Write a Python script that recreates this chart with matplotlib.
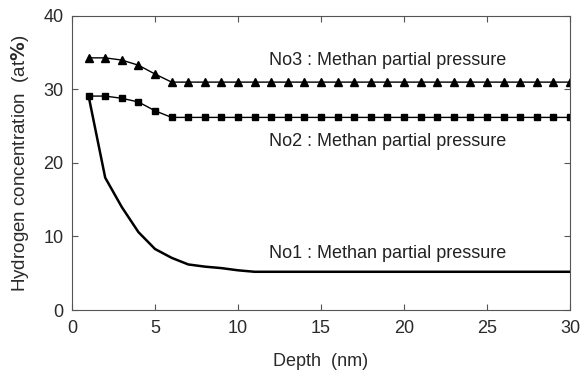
import matplotlib.pyplot as plt

depth = list(range(1, 31))
no1 = [29.1, 18.0, 14.0, 10.6, 8.3, 7.1, 6.2, 5.9, 5.7, 5.4, 5.2] + [5.2] * 19
no2 = [29.1, 29.1, 28.8, 28.3, 27.1] + [26.2] * 25
no3 = [34.3, 34.3, 34.0, 33.3, 32.1] + [31.0] * 25

labels = ['No1 : Methan partial pressure',
          'No2 : Methan partial pressure',
          'No3 : Methan partial pressure']
label_x = 11.85
label_y = [7.75, 22.9, 33.9]

plt.rcParams['font.family'] = ['Liberation Sans', 'DejaVu Sans']

fig = plt.figure(figsize=(5.84, 3.71), dpi=100)
ax = fig.add_axes([0.1233, 0.1644, 0.8527, 0.7926])

ax.plot(depth, no1, color='black', linewidth=1.8)
ax.plot(depth, no2, color='black', linewidth=1, marker='s', markersize=4.5)
ax.plot(depth, no3, color='black', linewidth=1, marker='^', markersize=5.5)

for txt, yy in zip(labels, label_y):
    ax.text(label_x, yy, txt, fontsize=13, color='#222222', va='center', ha='left')

ax.set_xlim(0, 30)
ax.set_ylim(0, 40)
ax.set_xticks(range(0, 31, 5))
ax.set_yticks(range(0, 41, 10))
ax.tick_params(direction='in', top=True, right=True, length=4, width=0.8,
               colors='#555555', labelcolor='#2a2a2a', labelsize=13, pad=7)
ax.tick_params(axis='y', pad=6)
for s in ax.spines.values():
    s.set_color('#555555')
    s.set_linewidth(0.8)

ax.set_xlabel('Depth  (nm)', fontsize=13, color='#2a2a2a', labelpad=12)
ax.set_ylabel(r'Hydrogen concentration  (at$\mathbf{\%}$)', fontsize=13.5,
              color='#2a2a2a', labelpad=9)

fig.savefig('out.png', dpi=100)
